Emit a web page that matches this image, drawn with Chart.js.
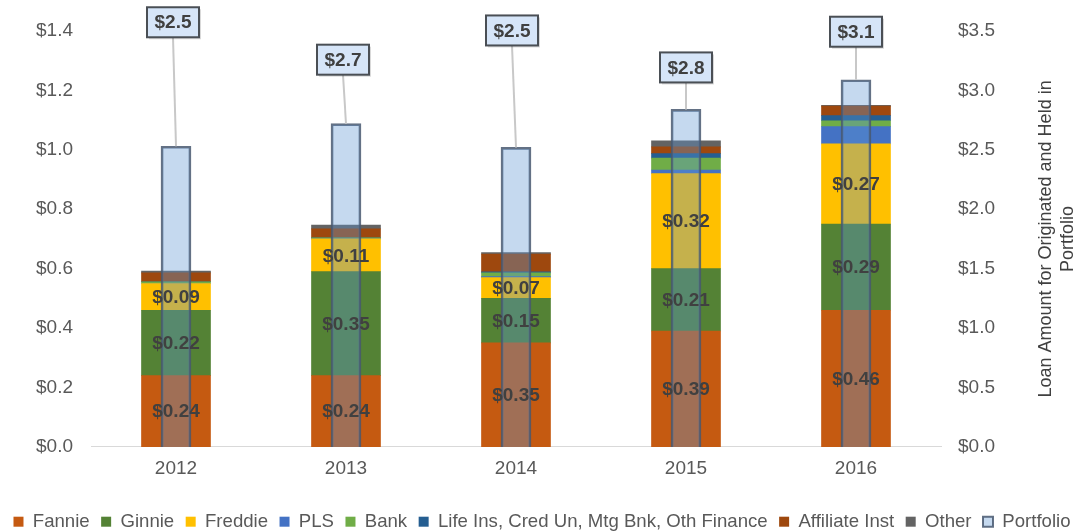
<!DOCTYPE html>
<html>
<head>
<meta charset="utf-8">
<script src="https://cdn.jsdelivr.net/npm/chart.js@4/dist/chart.umd.min.js"></script>
<style>
  html, body { margin: 0; padding: 0; background: #fff; overflow: hidden; }
  #wrap { width: 1084px; height: 541px; position: relative; }
</style>
</head>
<body>
<div id="wrap"><canvas id="loanChart"></canvas></div>
<script>
// values ($ trillions)
const years = ['2012', '2013', '2014', '2015', '2016'];
const fannie = [0.24, 0.24, 0.35, 0.39, 0.46];
const ginnie = [0.22, 0.35, 0.15, 0.21, 0.29];
const freddie = [0.09, 0.11, 0.07, 0.32, 0.27];
const pls = [0, 0, 0.003, 0.012, 0.058];
const bank = [0.006, 0.004, 0.013, 0.04, 0.02];
const lifeIns = [0, 0, 0.003, 0.015, 0.017];
const affiliate = [0.03, 0.03, 0.06, 0.023, 0.032];
const other = [0.006, 0.013, 0.005, 0.02, 0.003];
const portfolio = [2.53, 2.72, 2.52, 2.84, 3.09];

const leftTicks = [0, 0.2, 0.4, 0.6, 0.8, 1.0, 1.2, 1.4];
const rightTicks = [0, 0.5, 1.0, 1.5, 2.0, 2.5, 3.0, 3.5];

const FONT = "'Liberation Sans', Arial, sans-serif";
const labelled = ['Fannie', 'Ginnie', 'Freddie'];

// where each portfolio callout sits, relative to its bar top (px)
const calloutOffset = [[-3, 124], [-3, 64], [-4, 117], [0, 42], [0, 48]];

function stackSet(label, data, color) {
    return {
        label: label,
        data: data,
        backgroundColor: color,
        borderWidth: 0,
        stack: 'mix',
        yAxisID: 'y',
        barThickness: 69
    };
}

const segmentLabels = {
    id: 'segmentLabels',
    afterDatasetsDraw(chart) {
        const ctx = chart.ctx;
        ctx.save();
        ctx.font = 'bold 19px ' + FONT;
        ctx.fillStyle = '#404040';
        ctx.textAlign = 'center';
        ctx.textBaseline = 'middle';
        chart.data.datasets.forEach((ds, i) => {
            if (!labelled.includes(ds.label)) return;
            chart.getDatasetMeta(i).data.forEach((bar, j) => {
                const y = (bar.y + bar.base) / 2;
                ctx.fillText('$' + ds.data[j].toFixed(2), bar.x, y + 1);
            });
        });

        // callouts for the portfolio bars
        const pIdx = chart.data.datasets.findIndex(d => d.label === 'Portfolio');
        chart.getDatasetMeta(pIdx).data.forEach((bar, j) => {
            const bx = bar.x + calloutOffset[j][0];
            const by = bar.y - calloutOffset[j][1];
            const w = 52, h = 30;
            ctx.strokeStyle = '#c8c8c8';
            ctx.lineWidth = 2;
            ctx.beginPath();
            ctx.moveTo(bx, by + h / 2);
            ctx.lineTo(bar.x, bar.y);
            ctx.stroke();

            ctx.fillStyle = 'rgba(0,0,0,0.15)';
            ctx.fillRect(bx - w / 2 + 2, by - h / 2 + 2, w, h);
            ctx.fillStyle = '#d6e5f8';
            ctx.fillRect(bx - w / 2, by - h / 2, w, h);
            ctx.strokeStyle = '#4a4f55';
            ctx.lineWidth = 2;
            ctx.strokeRect(bx - w / 2, by - h / 2, w, h);

            ctx.fillStyle = '#404040';
            ctx.font = 'bold 19px ' + FONT;
            ctx.fillText('$' + portfolio[j].toFixed(1), bx, by + 1);
        });
        ctx.restore();
    }
};

const rightTitle = {
    id: 'rightTitle',
    afterDraw(chart) {
        const ctx = chart.ctx;
        const cy = (chart.chartArea.top + chart.chartArea.bottom) / 2;
        ctx.save();
        ctx.fillStyle = '#404040';
        ctx.font = '18px ' + FONT;
        ctx.textAlign = 'center';
        ctx.textBaseline = 'middle';
        ctx.translate(1046, cy);
        ctx.rotate(-Math.PI / 2);
        ctx.fillText('Loan Amount for Originated and Held in', 0, 0);
        ctx.fillText('Portfolio', 0, 22);
        ctx.restore();
    }
};

const ctx = document.getElementById('loanChart').getContext('2d');
new Chart(ctx, {
    type: 'bar',
    data: {
        labels: years,
        datasets: [
            stackSet('Fannie', fannie, '#c55a11'),
            stackSet('Ginnie', ginnie, '#548235'),
            stackSet('Freddie', freddie, '#ffc000'),
            stackSet('PLS', pls, '#4472c4'),
            stackSet('Bank', bank, '#70ad47'),
            stackSet('Life Ins, Cred Un, Mtg Bnk, Oth Finance', lifeIns, '#255e91'),
            stackSet('Affiliate Inst', affiliate, '#9e480e'),
            stackSet('Other', other, '#636363'),
            {
                label: 'Portfolio',
                data: portfolio,
                backgroundColor: 'rgba(94,150,211,0.36)',
                borderColor: 'rgba(72,88,112,0.85)',
                borderWidth: 2,
                yAxisID: 'y2',
                stack: 'port',
                grouped: false,
                order: -1,
                barThickness: 30
            }
        ]
    },
    options: {
        responsive: true,
        maintainAspectRatio: false,
        animation: false,
        layout: { padding: { top: 31, left: 0, right: 0, bottom: 0 } },
        plugins: {
            legend: {
                position: 'bottom',
                labels: {
                    boxWidth: 10,
                    boxHeight: 10,
                    padding: 11.5,
                    color: '#595959',
                    font: { family: FONT, size: 18.6 },
                    sort: (a, b) => a.datasetIndex - b.datasetIndex
                }
            },
            tooltip: { enabled: false }
        },
        scales: {
            x: {
                stacked: true,
                grid: { display: false, drawTicks: false },
                border: { display: true, color: '#d9d9d9', width: 1 },
                ticks: { color: '#595959', font: { family: FONT, size: 19 }, padding: 10 },
                afterFit: s => { s.height = 54; }
            },
            y: {
                stacked: true,
                min: 0,
                max: 1.4,
                grid: { display: false, drawTicks: false },
                border: { display: false },
                afterBuildTicks: s => { s.ticks = leftTicks.map(v => ({ value: v })); },
                ticks: {
                    color: '#595959',
                    font: { family: FONT, size: 19 },
                    padding: 18,
                    callback: v => '$' + Number(v).toFixed(1)
                },
                afterFit: s => { s.width = 91; }
            },
            y2: {
                position: 'right',
                min: 0,
                max: 3.5,
                grid: { display: false, drawTicks: false },
                border: { display: false },
                afterBuildTicks: s => { s.ticks = rightTicks.map(v => ({ value: v })); },
                ticks: {
                    color: '#595959',
                    font: { family: FONT, size: 19 },
                    padding: 17,
                    callback: v => '$' + Number(v).toFixed(1)
                },
                afterFit: s => { s.width = 143; }
            }
        }
    },
    plugins: [segmentLabels, rightTitle]
});
</script>
</body>
</html>
